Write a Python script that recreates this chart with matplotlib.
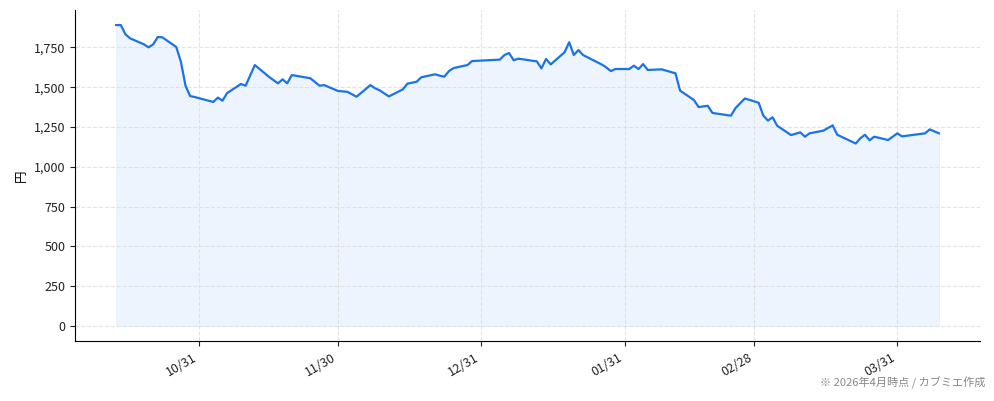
import matplotlib
matplotlib.use("Agg")
import matplotlib.pyplot as plt
import matplotlib.dates as mdates
from matplotlib.ticker import FuncFormatter
import pandas as pd

plt.rcParams['font.family'] = ['Noto Sans CJK JP', 'DejaVu Sans']

# Data (close price, yen)
dates = pd.to_datetime([
    "2025-10-13", "2025-10-14", "2025-10-15", "2025-10-16", "2025-10-19", "2025-10-20",
    "2025-10-21", "2025-10-22", "2025-10-23", "2025-10-26", "2025-10-27", "2025-10-28",
    "2025-10-29", "2025-10-30", "2025-11-03", "2025-11-04", "2025-11-05", "2025-11-06",
    "2025-11-09", "2025-11-10", "2025-11-12", "2025-11-15", "2025-11-17", "2025-11-18",
    "2025-11-19", "2025-11-20", "2025-11-24", "2025-11-26", "2025-11-27", "2025-11-30",
    "2025-12-02", "2025-12-04", "2025-12-07", "2025-12-08", "2025-12-09", "2025-12-11",
    "2025-12-14", "2025-12-15", "2025-12-17", "2025-12-18", "2025-12-21", "2025-12-22",
    "2025-12-23", "2025-12-24", "2025-12-25", "2025-12-28", "2025-12-29", "2026-01-04",
    "2026-01-05", "2026-01-06", "2026-01-07", "2026-01-08", "2026-01-12", "2026-01-13",
    "2026-01-14", "2026-01-15", "2026-01-18", "2026-01-19", "2026-01-20", "2026-01-21",
    "2026-01-22", "2026-01-26", "2026-01-27", "2026-01-28", "2026-01-29", "2026-02-01",
    "2026-02-02", "2026-02-03", "2026-02-04", "2026-02-05", "2026-02-08", "2026-02-11",
    "2026-02-12", "2026-02-15", "2026-02-16", "2026-02-18", "2026-02-19", "2026-02-23",
    "2026-02-24", "2026-02-26", "2026-03-01", "2026-03-02", "2026-03-03", "2026-03-04",
    "2026-03-05", "2026-03-08", "2026-03-10", "2026-03-11", "2026-03-12", "2026-03-15",
    "2026-03-17", "2026-03-18", "2026-03-22", "2026-03-23", "2026-03-24", "2026-03-25",
    "2026-03-26", "2026-03-29", "2026-03-31", "2026-04-01", "2026-04-06", "2026-04-07",
    "2026-04-09",
])
prices = [
    1890, 1890, 1832, 1807, 1769, 1750,
    1769, 1815, 1813, 1752, 1660, 1509,
    1444, 1438, 1407, 1434, 1415, 1463,
    1520, 1509, 1639, 1566, 1524, 1549,
    1524, 1576, 1556, 1509, 1513, 1476,
    1471, 1440, 1513, 1493, 1480, 1442,
    1486, 1522, 1534, 1562, 1581, 1572,
    1566, 1601, 1620, 1639, 1664, 1673,
    1702, 1714, 1669, 1679, 1662, 1618,
    1677, 1643, 1719, 1782, 1702, 1733,
    1702, 1643, 1625, 1601, 1614, 1614,
    1635, 1614, 1645, 1608, 1612, 1587,
    1478, 1419, 1375, 1383, 1338, 1321,
    1369, 1429, 1402, 1322, 1290, 1311,
    1258, 1199, 1216, 1189, 1210, 1227,
    1260, 1201, 1146, 1179, 1201, 1166,
    1189, 1168, 1210, 1191, 1210, 1235,
    1210,
]
tick_dates = pd.to_datetime(["2025-10-31", "2025-11-30", "2025-12-31",
                             "2026-01-31", "2026-02-28", "2026-03-31"])

fig = plt.figure(figsize=(9.94, 4.01), dpi=100)
ax = fig.add_axes([0.0755, 0.1496, 0.9105, 0.8254])

line_color = '#1a73e8'
ax.plot(dates, prices, color=line_color, linewidth=1.6)
ax.fill_between(dates, prices, 0, facecolor=line_color, alpha=0.08,
                edgecolor=line_color, linewidth=0.6)

ax.set_xticks(tick_dates)
ax.xaxis.set_major_formatter(mdates.DateFormatter('%m/%d'))
plt.setp(ax.get_xticklabels(), rotation=30, ha='right')

ax.set_yticks(range(0, 2000, 250))
ax.yaxis.set_major_formatter(FuncFormatter(lambda v, p: f'{int(v):,}'))
ax.set_ylabel('円', fontsize=9)

ax.tick_params(labelsize=9, colors='#222222')
ax.grid(True, linestyle='--', color='#dddddd', linewidth=0.8, alpha=0.8)
ax.spines['top'].set_visible(False)
ax.spines['right'].set_visible(False)

fig.text(0.991, 0.03, '※ 2026年4月時点 / カブミエ作成', ha='right', va='bottom',
         fontsize=8, color='#888888')

fig.savefig('out.png', dpi=100)
